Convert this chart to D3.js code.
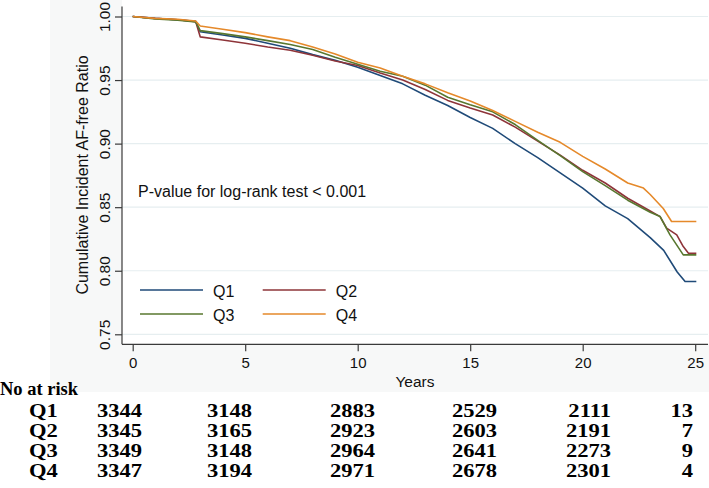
<!DOCTYPE html>
<html>
<head>
<meta charset="utf-8">
<script src="https://cdn.jsdelivr.net/npm/d3@7/dist/d3.min.js"></script>
<style>
  html, body { margin: 0; padding: 0; background: #ffffff; }
  svg { display: block; }
</style>
</head>
<body>
<svg id="chart" width="709" height="488"></svg>
<script>
// ---------------- DATA ----------------
const groups = ["Q1", "Q2", "Q3", "Q4"];

const q1Years = [0, 1, 2, 2.8, 3.0, 4, 5, 6, 7, 8, 9, 10, 11, 12, 13, 14, 15, 16, 17, 18, 19, 20, 21, 22, 23, 23.6, 24.2, 24.55, 25.05];
const q1Surv  = [1.000, 0.9985, 0.9975, 0.9962, 0.988, 0.9855, 0.9828, 0.979, 0.975, 0.970, 0.9655, 0.9600, 0.9535, 0.947, 0.938, 0.930, 0.9205, 0.912, 0.900, 0.889, 0.877, 0.865, 0.851, 0.841, 0.826, 0.816, 0.799, 0.7915, 0.7915];

const q2Years = [0, 1, 2, 2.8, 3.0, 4, 5, 6, 7, 8, 9, 10, 11, 12, 13, 14, 15, 16, 17, 18, 19, 20, 21, 22, 23, 23.44, 23.73, 24.18, 24.47, 24.7, 25.05];
const q2Surv  = [1.000, 0.9985, 0.9975, 0.996, 0.984, 0.9815, 0.979, 0.976, 0.9735, 0.9695, 0.965, 0.9615, 0.9555, 0.950, 0.9425, 0.934, 0.928, 0.9225, 0.913, 0.902, 0.891, 0.879, 0.869, 0.857, 0.847, 0.8426, 0.8335, 0.8282, 0.819, 0.8138, 0.8138];

const q3Years = [0, 1, 2, 2.8, 3.0, 4, 5, 6, 7, 8, 9, 10, 11, 12, 13, 14, 15, 16, 17, 18, 19, 20, 21, 22, 23, 23.44, 23.88, 24.47, 25.05];
const q3Surv  = [1.000, 0.998, 0.997, 0.9958, 0.9889, 0.9865, 0.984, 0.981, 0.978, 0.974, 0.968, 0.9625, 0.957, 0.953, 0.946, 0.9365, 0.9305, 0.925, 0.915, 0.9025, 0.8905, 0.878, 0.867, 0.8555, 0.846, 0.8426, 0.8282, 0.8125, 0.8125];

const q4Years = [0, 1, 2, 2.8, 3.0, 4, 5, 6, 7, 8, 9, 10, 11, 12, 13, 14, 15, 16, 17, 18, 19, 20, 21, 22, 22.7, 23, 23.58, 23.95, 25.05];
const q4Surv  = [1.000, 0.9985, 0.9978, 0.9965, 0.9925, 0.990, 0.9873, 0.984, 0.981, 0.976, 0.9705, 0.964, 0.9595, 0.953, 0.947, 0.940, 0.9335, 0.926, 0.9175, 0.909, 0.901, 0.890, 0.880, 0.869, 0.865, 0.860, 0.849, 0.8387, 0.8387];

const xTicks = [0, 5, 10, 15, 20, 25];
const yTicks = [0.75, 0.80, 0.85, 0.90, 0.95, 1.00];

const riskQ1 = [3344, 3148, 2883, 2529, 2111, 13];
const riskQ2 = [3345, 3165, 2923, 2603, 2191, 7];
const riskQ3 = [3349, 3148, 2964, 2641, 2273, 9];
const riskQ4 = [3347, 3194, 2971, 2678, 2301, 4];

const pText = "P-value for log-rank test < 0.001";
const yTitle = "Cumulative Incident AF-free Ratio";
const xTitle = "Years";
const riskTitle = "No at risk";

// ---------------- LAYOUT / STYLE ----------------
const colors = { Q1: "#1f4a78", Q2: "#8e3439", Q3: "#58772f", Q4: "#e5892a" };
const sans = "'Liberation Sans', Arial, Helvetica, sans-serif";
const serif = "'Liberation Serif', 'Times New Roman', serif";
const riskColRight = [142, 252, 375, 497, 611, 693];
const riskRowBase = [417, 437, 457, 477];
const riskStretch = 1.22;

const svg = d3.select("#chart");

// graph region & plot region backgrounds
svg.append("rect").attr("x", 50).attr("y", 0).attr("width", 659).attr("height", 392).attr("fill", "#f7f8f8");
svg.append("rect").attr("x", 122).attr("y", 0).attr("width", 587).attr("height", 344.3).attr("fill", "#ffffff");

const x = d3.scaleLinear().domain([0, 25]).range([132.7, 695.2]);
const y = d3.scaleLinear().domain([0.75, 1.0]).range([334.3, 16.5]);

// gridlines
svg.append("g").selectAll("line").data(yTicks).join("line")
  .attr("x1", 122).attr("x2", 708)
  .attr("y1", d => y(d)).attr("y2", d => y(d))
  .attr("stroke", "#e6eef0").attr("stroke-width", 1.2);

// axes lines
svg.append("line").attr("x1", 122).attr("x2", 122).attr("y1", 6.5).attr("y2", 344.3)
  .attr("stroke", "#3a3a3a").attr("stroke-width", 1.2);
svg.append("line").attr("x1", 122).attr("x2", 708).attr("y1", 344.3).attr("y2", 344.3)
  .attr("stroke", "#3a3a3a").attr("stroke-width", 1.2);

// x axis ticks
const xAxis = d3.axisBottom(x).tickValues(xTicks).tickSize(7).tickPadding(6.5).tickFormat(d3.format("d"));
const gx = svg.append("g").attr("transform", "translate(0,344.3)").call(xAxis);
gx.select(".domain").remove();
gx.selectAll(".tick line").attr("stroke", "#3a3a3a").attr("stroke-width", 1.2);
gx.selectAll(".tick text").attr("font-family", sans).attr("font-size", 15).attr("fill", "#111");

// y axis ticks
const yAxis = d3.axisLeft(y).tickValues(yTicks).tickSize(7).tickFormat(d3.format(".2f"));
const gy = svg.append("g").attr("transform", "translate(122,0)").call(yAxis);
gy.select(".domain").remove();
gy.selectAll(".tick line").attr("stroke", "#3a3a3a").attr("stroke-width", 1.2);
gy.selectAll(".tick text")
  .attr("x", null).attr("dy", null)
  .attr("text-anchor", "middle")
  .attr("transform", "translate(-12,0) rotate(-90)")
  .attr("font-family", sans).attr("font-size", 15.5).attr("fill", "#111");

// axis titles
svg.append("text").attr("transform", "translate(88,175) rotate(-90)")
  .attr("text-anchor", "middle").attr("font-family", sans).attr("font-size", 16).attr("fill", "#111")
  .text(yTitle);
svg.append("text").attr("x", 415).attr("y", 387)
  .attr("text-anchor", "middle").attr("font-family", sans).attr("font-size", 15.5).attr("fill", "#111")
  .text(xTitle);

// curves
const series = [
  { key: "Q1", t: q1Years, s: q1Surv },
  { key: "Q2", t: q2Years, s: q2Surv },
  { key: "Q3", t: q3Years, s: q3Surv },
  { key: "Q4", t: q4Years, s: q4Surv }
];
const line = d3.line().x(d => x(d[0])).y(d => y(d[1])).curve(d3.curveLinear);
svg.append("g").selectAll("path").data(series).join("path")
  .attr("d", d => line(d.t.map((t, i) => [t, d.s[i]])))
  .attr("fill", "none")
  .attr("stroke", d => colors[d.key])
  .attr("stroke-width", 1.6)
  .attr("stroke-linejoin", "round");

// p-value
svg.append("text").attr("x", 138).attr("y", 196.7)
  .attr("font-family", sans).attr("font-size", 16).attr("fill", "#111")
  .text(pText);

// legend
const legendPos = { Q1: [140, 290], Q2: [262.7, 290], Q3: [140, 314], Q4: [262.7, 314] };
const lg = svg.append("g");
groups.forEach(k => {
  const [lx, ly] = legendPos[k];
  lg.append("line").attr("x1", lx).attr("x2", lx + 63).attr("y1", ly).attr("y2", ly)
    .attr("stroke", colors[k]).attr("stroke-width", 1.6);
  lg.append("text").attr("x", lx + 73).attr("y", ly + 6.5)
    .attr("font-family", sans).attr("font-size", 16).attr("fill", "#111").text(k);
});

// risk table
svg.append("text").attr("x", 0).attr("y", 395)
  .attr("font-family", serif).attr("font-weight", "bold").attr("font-size", 18.5).attr("fill", "#000")
  .text(riskTitle);
const riskRows = [riskQ1, riskQ2, riskQ3, riskQ4];
riskRows.forEach((row, r) => {
  svg.append("text")
    .attr("transform", `translate(29,${riskRowBase[r]}) scale(${riskStretch},1)`)
    .attr("font-family", serif).attr("font-weight", "bold").attr("font-size", 18.5).attr("fill", "#000")
    .text(groups[r]);
  row.forEach((v, c) => {
    svg.append("text")
      .attr("transform", `translate(${riskColRight[c]},${riskRowBase[r]}) scale(${riskStretch},1)`)
      .attr("text-anchor", "end")
      .attr("font-family", serif).attr("font-weight", "bold").attr("font-size", 18.5).attr("fill", "#000")
      .text(v);
  });
});
</script>
</body>
</html>
